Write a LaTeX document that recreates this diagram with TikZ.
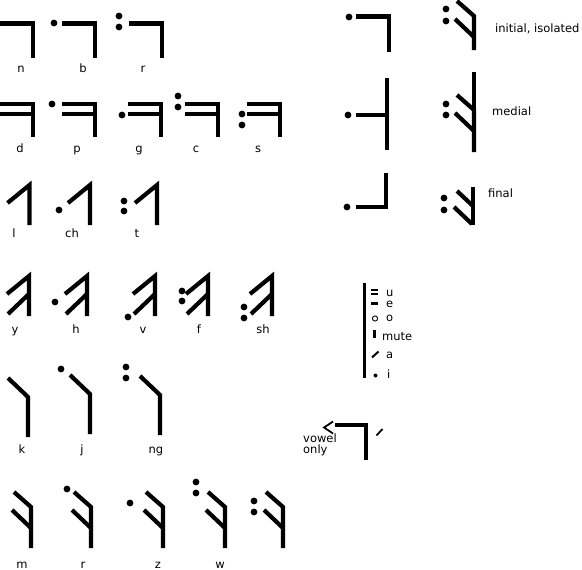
\documentclass[tikz,border=0pt]{standalone}
\usepackage{fontspec}
\setmainfont{DejaVu Sans}
\usetikzlibrary{arrows.meta}

\begin{document}
\begin{tikzpicture}[x=1pt, y=-1pt,
            stroke/.style={line width=4.2pt, line join=miter},
            thinstroke/.style={line width=1.8pt},
            lbl/.style={anchor=base, inner sep=0pt, font=\fontsize{11.5}{11}\selectfont},
            side/.style={lbl, anchor=base west},
            pics/nglyph/.style={code={\draw[stroke] (-33,0) -- (0,0) -- (0,#1);}},
            pics/dglyph/.style={code={\draw[stroke] (-33,0) -- (0,0) -- (0,33); \draw[stroke] (-33,10) -- (0,10);}},
            pics/lglyph/.style={code={\draw[stroke] (-22,18) -- (0,0) -- (0,40);}},
            pics/yglyph/.style={code={\draw[stroke] (-22,18) -- (0,0) -- (0,40); \draw[stroke] (-21,38) -- (0,18);}},
            pics/kglyph/.style={code={\draw[stroke] (-20,-19) -- (0,0) -- (0,#1);}},
            pics/mglyph/.style={code={\draw[stroke] (-17,-15) -- (0,0) -- (0,#1); \draw[stroke] (-19,3) -- (0,21);}}]

            \useasboundingbox (0,0) rectangle (582,570);
            \newcommand\gdot[1]{\fill #1 circle[radius=3.4pt];}

            % n b r
            \pic at (33,23.5) {nglyph=34};
            \pic at (95,23.5) {nglyph=34};  \gdot{(54,23)}
            \pic at (162,23.5) {nglyph=34}; \gdot{(119,16)} \gdot{(119,27)}
            \node[lbl] (n) at (21,72) {n};
            \node[lbl] (b) at (83,72) {b};
            \node[lbl] (r1) at (143,72) {r};

            % d p g c s
            \pic at (33,104) {dglyph};
            \pic at (95,104) {dglyph};  \gdot{(52,104)}
            \pic at (161,104) {dglyph}; \gdot{(122,115)}
            \pic at (218,104) {dglyph}; \gdot{(178,96)} \gdot{(178,107)}
            \pic at (280,104) {dglyph}; \gdot{(242,114)} \gdot{(242,125)}
            \node[lbl] (d) at (20,152) {d};
            \node[lbl] (p) at (77,152) {p};
            \node[lbl] (g) at (139,152) {g};
            \node[lbl] (c) at (196,152) {c};
            \node[lbl] (s) at (258,152) {s};

            % l ch t
            \pic at (29.5,185) {lglyph};
            \pic at (90,185) {lglyph};  \gdot{(59,210)}
            \pic at (157,185) {lglyph}; \gdot{(124,201)} \gdot{(124,211)}
            \node[lbl] (l) at (14,237) {l};
            \node[lbl] (ch) at (72,237) {ch};
            \node[lbl] (t) at (137,237) {t};

            % y h v f sh
            \pic at (29,276) {yglyph};
            \pic at (87,276) {yglyph};  \gdot{(55,302)}
            \pic at (155,276) {yglyph}; \gdot{(128,317)}
            \pic at (208,276) {yglyph}; \gdot{(182,291)} \gdot{(182,301)}
            \pic at (272,276) {yglyph}; \gdot{(244,307)} \gdot{(244,318)}
            \node[lbl] (y) at (15,333) {y};
            \node[lbl] (h) at (76,333) {h};
            \node[lbl] (v) at (143,333) {v};
            \node[lbl] (f) at (199,333) {f};
            \node[lbl] (sh) at (263,333) {sh};

            % k j ng
            \pic at (28,397) {kglyph=40};
            \pic at (90,394) {kglyph=40};  \gdot{(61,369)}
            \pic at (160,395) {kglyph=40}; \gdot{(126,367)} \gdot{(126,378)}
            \node[lbl] (k) at (22,453) {k};
            \node[lbl] (j) at (82,453) {j};
            \node[lbl] (ng) at (156,453) {ng};

            % m r z w
            \pic at (31,507) {mglyph=41};
            \pic at (91,507) {mglyph=41};  \gdot{(67,489)}
            \pic at (163,507) {mglyph=41}; \gdot{(130,503)}
            \pic at (225,507) {mglyph=41}; \gdot{(196,482)} \gdot{(196,493)}
            \pic at (283,507) {mglyph=41}; \gdot{(254,501)} \gdot{(254,512)}
            \node[lbl] (m) at (22,568) {m};
            \node[lbl] (r2) at (83,568) {r};
            \node[lbl] (z) at (158,568) {z};
            \node[lbl] (w) at (220,568) {w};

            % positional forms
            \pic at (389,16.5) {nglyph=35}; \gdot{(349,17)}
            \draw[stroke] (356,115) -- (387,115); \draw[stroke] (387,78) -- (387,150); \gdot{(348,115)}
            \draw[stroke] (356,207) -- (386,207) -- (386,173); \gdot{(347,207)}
            \pic at (474,16) {mglyph=34}; \gdot{(446,9)} \gdot{(446,21)}
            \draw[stroke] (474,72) -- (474,110);
            \pic at (474,110) {mglyph=42}; \gdot{(446,104)} \gdot{(446,115)}
            \draw[stroke] (457,191) -- (473,206); \draw[stroke] (473,187) -- (473,225);
            \draw[stroke] (454,207) -- (472,224); \gdot{(444,198)} \gdot{(444,210)}
            \node[side] (initial) at (495,32) {initial, isolated};
            \node[side] (medial) at (492,115) {medial};
            \node[side] (final) at (488,197) {final};

            % vowels
            \draw[line width=3.6pt] (364.3,283) -- (364.3,378);
            \draw[line width=1.8pt] (371,290) -- (378,290) (371,294) -- (378,294);
            \draw[line width=2.2pt] (371,303.5) -- (378,303.5);
            \draw[line width=0.9pt] (375,318.5) circle[radius=2.6pt];
            \draw[line width=2.2pt] (374.5,330) -- (374.5,337.5);
            \draw[line width=2pt] (372,357.5) -- (378.5,351.5);
            \fill (375.5,375.5) circle[radius=2pt];
            \node[side] (u) at (386,296) {u};
            \node[side] (e) at (386,307) {e};
            \node[side] (o) at (386,321) {o};
            \node[side] (mute) at (382,340) {mute};
            \node[side] (a) at (386,358) {a};
            \node[side] (i) at (387,378) {i};

            % vowel only
            \draw[stroke] (335,425) -- (366,425) -- (366,460);
            \draw[thinstroke] (333,421.5) -- (324,427.5) -- (333,433.5);
            \draw[thinstroke] (376.5,435.5) -- (382.5,429);
            \node[side, align=left] (vowel) at (303,453) {vowel\\only};
        \end{tikzpicture}
\end{document}
